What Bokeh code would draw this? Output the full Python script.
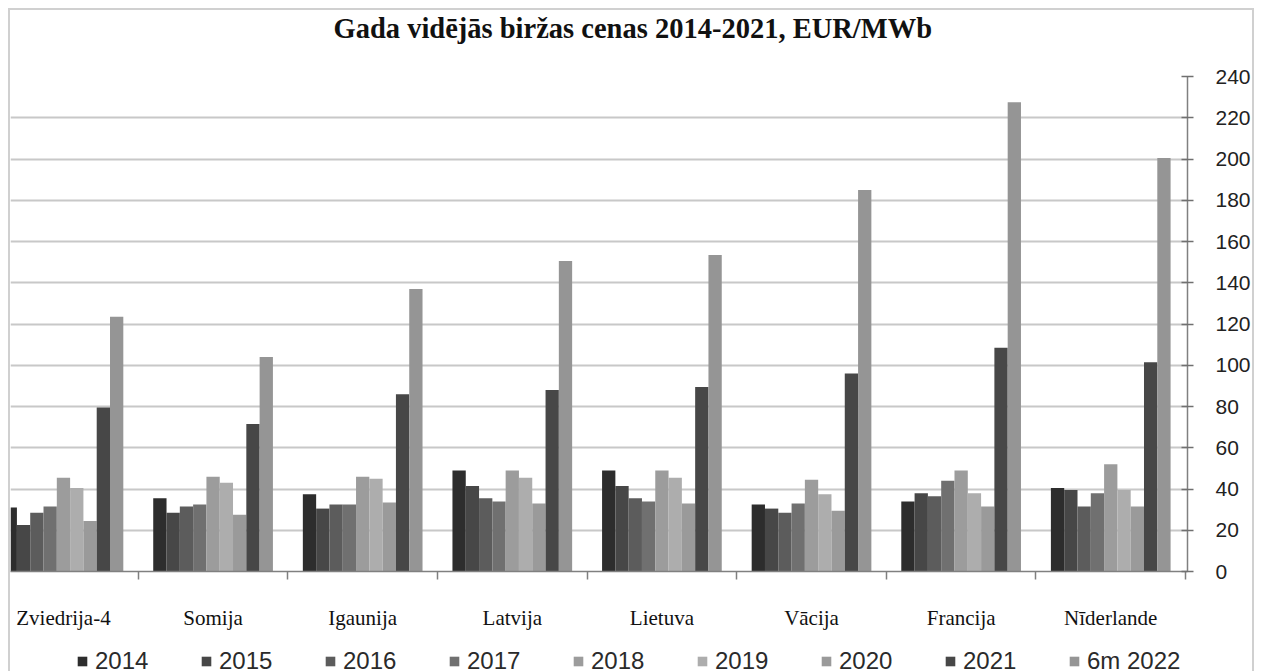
from bokeh.plotting import figure
from bokeh.layouts import column
from bokeh.models import Range1d, FixedTicker, Legend, LegendItem, ColumnDataSource, Title
from bokeh.embed import file_html
from bokeh.resources import INLINE

countries = ["Zviedrija-4", "Somija", "Igaunija", "Latvija", "Lietuva", "Vācija", "Francija", "Nīderlande"]
years = ["2014", "2015", "2016", "2017", "2018", "2019", "2020", "2021", "6m 2022"]

v2014 = [31, 35.5, 37.5, 49, 49, 32.5, 34, 40.5]
v2015 = [22.5, 28.5, 30.5, 41.5, 41.5, 30.5, 38, 39.5]
v2016 = [28.5, 31.5, 32.5, 35.5, 35.5, 28.5, 36.5, 31.5]
v2017 = [31.5, 32.5, 32.5, 34, 34, 33, 44, 38]
v2018 = [45.5, 46, 46, 49, 49, 44.5, 49, 52]
v2019 = [40.5, 43, 45, 45.5, 45.5, 37.5, 38, 39.5]
v2020 = [24.5, 27.5, 33.5, 33, 33, 29.5, 31.5, 31.5]
v2021 = [79.5, 71.5, 86, 88, 89.5, 96, 108.5, 101.5]
v2022 = [123.5, 104, 137, 150.5, 153.5, 185, 227.5, 200.5]
series = [v2014, v2015, v2016, v2017, v2018, v2019, v2020, v2021, v2022]

colors = ["#2d2d2d", "#474747", "#5c5c5c", "#707070", "#9c9c9c", "#adadad", "#9a9a9a", "#474747", "#959595"]

title_text = "Gada vidējās biržas cenas 2014-2021, EUR/MWb"
y_ticks = list(range(0, 241, 20))

BORDER = "#d0d0d0"

# ---------------- main chart ----------------
p = figure(width=1254, height=640, title=None,
           x_range=Range1d(-0.354, 7.513), y_range=Range1d(0, 240),
           output_backend="svg", toolbar_location=None, y_axis_location="right",
           min_border_left=10, min_border_right=67, min_border_top=76, min_border_bottom=69)

p.stylesheets = [":host::after { content: ''; position: absolute; left: 8px; top: 8px; "
                 "width: 1246px; height: 632px; border: 2px solid " + BORDER + "; border-bottom: none; "
                 "box-sizing: border-box; pointer-events: none; z-index: 10; }"]

n = len(years)
w = 0.8 / n
for j, (yr, vals, col) in enumerate(zip(years, series, colors)):
    xs = [i + (j - (n - 1) / 2) * w for i in range(len(countries))]
    src = ColumnDataSource(dict(x=xs, top=vals))
    p.vbar(x="x", top="top", width=w, source=src, fill_color=col, line_color=None)

# title (a blank spacer title between frame and the real title lifts it up)
p.add_layout(Title(text=" ", text_font_size="20px", standoff=7), "above")
p.add_layout(Title(text=title_text, align="left", offset=323, vertical_align="top",
                   standoff=0, text_font="Liberation Serif", text_font_style="bold",
                   text_font_size="28.5px", text_color="#111111"), "above")

# x axis
xa = p.xaxis[0]
xa.ticker = FixedTicker(ticks=list(range(len(countries))),
                        minor_ticks=[k + 0.5 for k in range(-1, len(countries))])
xa.major_label_overrides = {i: c for i, c in enumerate(countries)}
xa.major_tick_line_color = None
xa.major_tick_out = 0
xa.major_tick_in = 0
xa.minor_tick_in = 0
xa.minor_tick_out = 8
xa.minor_tick_line_color = "#7f7f7f"
xa.minor_tick_line_width = 1.5
xa.major_label_standoff = 26
xa.major_label_text_font = "Liberation Serif"
xa.major_label_text_font_size = "21px"
xa.major_label_text_color = "#111111"
xa.axis_line_color = "#808080"
xa.axis_line_width = 1.5

# y axis
ya = p.yaxis[0]
ya.ticker = FixedTicker(ticks=y_ticks)
ya.major_tick_in = 6
ya.major_tick_out = 6
ya.minor_tick_line_color = None
ya.major_tick_line_color = "#707070"
ya.major_tick_line_width = 1.5
ya.major_label_standoff = 22
ya.major_label_text_align = "left"
ya.major_label_text_font = "Liberation Sans"
ya.major_label_text_font_size = "21px"
ya.major_label_text_color = "#222222"
ya.axis_line_color = "#808080"
ya.axis_line_width = 1.5

p.ygrid.ticker = FixedTicker(ticks=y_ticks)
p.ygrid.grid_line_color = "#c8c8c8"
p.ygrid.grid_line_width = 2
p.xgrid.grid_line_color = None
p.outline_line_color = None

# ---------------- legend strip ----------------
pl = figure(width=1254, height=31, x_range=Range1d(0, 1), y_range=Range1d(0, 1),
            output_backend="svg", toolbar_location=None,
            x_axis_location=None, y_axis_location=None, title_location=None,
            min_border=0, min_border_left=0, min_border_right=0,
            min_border_top=0, min_border_bottom=0)
pl.outline_line_color = None
pl.grid.visible = False
pl.stylesheets = [":host::after { content: ''; position: absolute; left: 8px; top: 0px; "
                  "width: 1246px; height: 31px; border-left: 2px solid " + BORDER + "; "
                  "border-right: 2px solid " + BORDER + "; "
                  "box-sizing: border-box; pointer-events: none; z-index: 10; }"]

items = []
nan = float("nan")
for yr, col in zip(years, colors):
    r = pl.vbar(x=[nan], top=[nan], width=0.1, fill_color=col, line_color=None)
    items.append(LegendItem(label=yr, renderers=[r]))

legend = Legend(items=items, orientation="horizontal", location=(66, -4),
                glyph_width=12, glyph_height=12, label_standoff=7, label_width=105,
                spacing=0, padding=0, margin=0, border_line_color=None,
                background_fill_alpha=0,
                label_text_font="Liberation Sans", label_text_font_size="24px",
                label_text_color="#2a2a2a")
pl.add_layout(legend, "center")

layout = column(p, pl, spacing=0)

open("out.html", "w").write(file_html(layout, INLINE))
